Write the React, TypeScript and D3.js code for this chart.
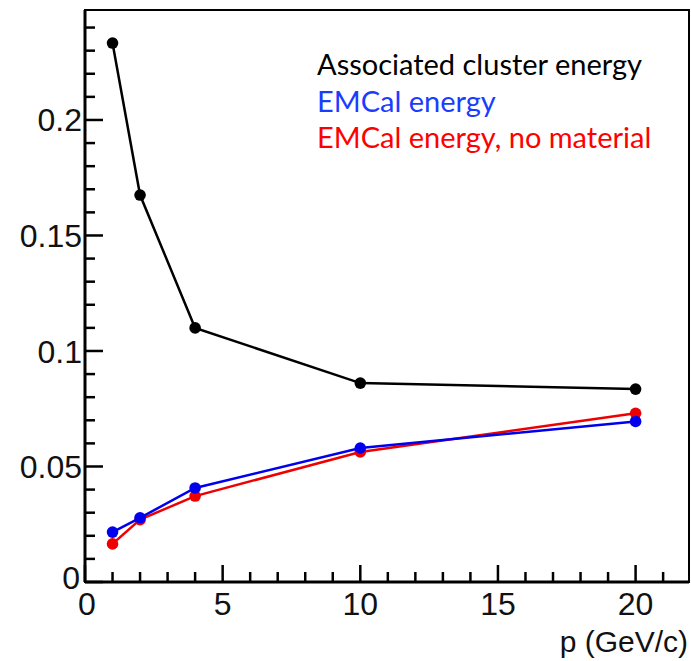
import React from 'react';
import * as d3 from 'd3';

const momenta = [1, 2, 4, 10, 20];
const clusterEnergy = [0.2333, 0.1675, 0.110, 0.0861, 0.0835];
const emcalEnergy = [0.0216, 0.0278, 0.0407, 0.0580, 0.0695];
const emcalNoMaterial = [0.0165, 0.0270, 0.0372, 0.0563, 0.0730];

const xMajor = [0, 5, 10, 15, 20];
const yMajor = [0, 0.05, 0.1, 0.15, 0.2];
const legendLabels = ['Associated cluster energy', 'EMCal energy', 'EMCal energy, no material'];
const seriesColors = ['#000000', '#0000ee', '#ee0000'];

const width = 691;
const height = 661;
const marginLeft = 85;
const marginTop = 10;
const marginRight = 2;
const marginBottom = 79;

export default function App() {
    const x = d3.scaleLinear()
        .domain([0, 21.94])
        .range([marginLeft, width - marginRight]);

    const y = d3.scaleLinear()
        .domain([0, 0.2476])
        .range([height - marginBottom, marginTop]);

    const line = d3.line<number>()
        .x((d, i) => x(momenta[i]))
        .y(d => y(d));

    const xMinor = d3.range(0, 22, 1).filter(v => v % 5 !== 0);
    const yMinor = d3.range(0, 0.2476, 0.01).filter(v => Math.round(v * 100) % 5 !== 0);

    const series = [
        { values: clusterEnergy, color: seriesColors[0] },
        { values: emcalNoMaterial, color: seriesColors[2] },
        { values: emcalEnergy, color: seriesColors[1] },
    ];

    const fmt = (v: number) => (v === 0 ? '0' : String(+v.toFixed(2)));
    const y0 = y(0);

    return (
        <svg width={width} height={height} style={{ position: 'absolute', left: 0, top: 0, background: '#fff' }}>
            <rect x={x(0)} y={marginTop} width={x.range()[1] - x(0)} height={y0 - marginTop}
                fill="none" stroke="#000" strokeWidth={2} />

            {/* y ticks */}
            {yMajor.map(v => (
                <line key={'ym' + v} x1={x(0)} x2={x(0) + 18} y1={y(v)} y2={y(v)} stroke="#000" strokeWidth={2.5} />
            ))}
            {yMinor.map(v => (
                <line key={'yn' + v} x1={x(0)} x2={x(0) + 10} y1={y(v)} y2={y(v)} stroke="#000" strokeWidth={2.5} />
            ))}
            {/* x ticks */}
            {xMajor.map(v => (
                <line key={'xm' + v} x1={x(v)} x2={x(v)} y1={y0} y2={y0 - 17} stroke="#000" strokeWidth={2.5} />
            ))}
            {xMinor.map(v => (
                <line key={'xn' + v} x1={x(v)} x2={x(v)} y1={y0} y2={y0 - 10} stroke="#000" strokeWidth={2.5} />
            ))}
            <line x1={x(0)} x2={x(0)} y1={marginTop} y2={y0} stroke="#000" strokeWidth={3} />
            <line x1={x(0)} x2={x.range()[1]} y1={y0} y2={y0} stroke="#000" strokeWidth={3} />

            <g fontFamily="'Liberation Sans', Arial, sans-serif" fontSize={32} fill="#111">
                {yMajor.map(v => (
                    <text key={'yl' + v} x={x(0) - (v === 0 ? 5 : 3)} y={y(v) - (v === 0 ? 5 : 0)} dy="0.36em" textAnchor="end">{fmt(v)}</text>
                ))}
                {xMajor.map(v => (
                    <text key={'xl' + v} x={x(v) + (v === 0 ? 2 : 0)} y={y0 + 33} textAnchor="middle">{v}</text>
                ))}
                <text x={688} y={652} fontSize={30} textAnchor="end">p (GeV/c)</text>
            </g>

            {series.map((s, k) => (
                <g key={k}>
                    <path d={line(s.values) || ''} fill="none" stroke={s.color} strokeWidth={2.5} />
                    {s.values.map((v, i) => (
                        <circle key={i} cx={x(momenta[i])} cy={y(v)} r={5.8} fill={s.color} />
                    ))}
                </g>
            ))}

            <g fontFamily="Lato, 'Open Sans', sans-serif" fontSize={29}>
                {legendLabels.map((t, i) => (
                    <text key={t} x={317} y={75 + i * 36.5} fill={i === 0 ? '#000' : i === 1 ? '#1a3cff' : '#ff0000'}>{t}</text>
                ))}
            </g>
        </svg>
    );
}
